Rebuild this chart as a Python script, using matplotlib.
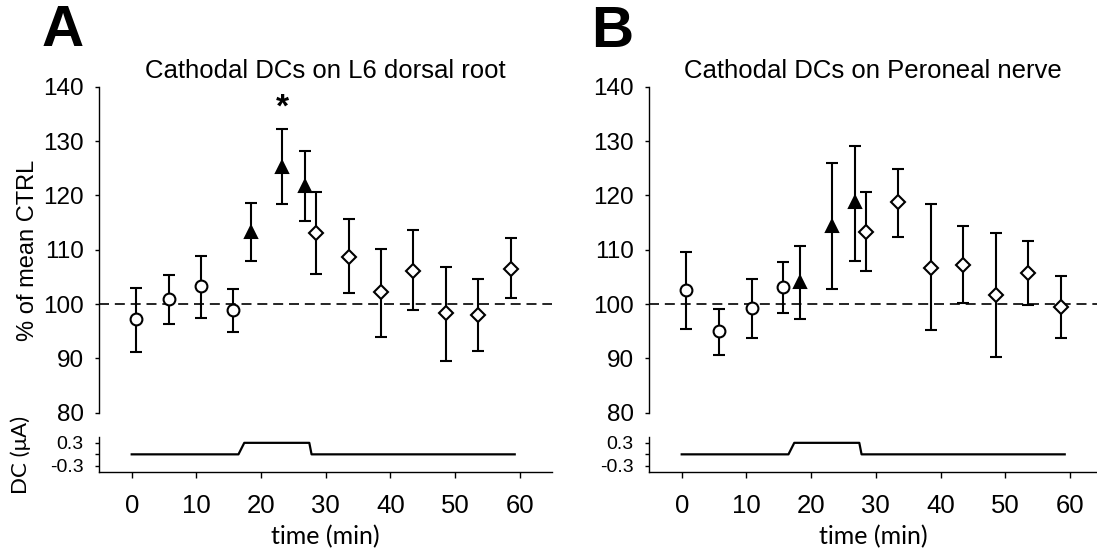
import matplotlib
matplotlib.use("Agg")
import matplotlib.pyplot as plt

plt.rcParams['font.family'] = ['Liberation Sans', 'DejaVu Sans']

# panel A - cathodal DCs on L6 dorsal root
timeA = [0.7, 5.7, 10.7, 15.7, 18.4, 23.3, 26.8, 28.5, 33.6, 38.5, 43.5, 48.6, 53.6, 58.6]
meanA = [97.2, 101.0, 103.3, 98.9, 113.3, 125.2, 121.7, 113.0, 108.7, 102.3, 106.1, 98.3, 97.9, 106.4]
highA = [102.9, 105.3, 108.8, 102.7, 118.6, 132.3, 128.2, 120.7, 115.7, 110.2, 113.7, 106.8, 104.6, 112.1]
lowA = [91.1, 96.3, 97.5, 94.9, 108.0, 118.5, 115.3, 105.5, 102.0, 94.0, 98.9, 89.6, 91.3, 101.1]

# panel B - cathodal DCs on peroneal nerve
timeB = [0.7, 5.7, 10.8, 15.7, 18.3, 23.3, 26.8, 28.5, 33.5, 38.5, 43.5, 48.6, 53.6, 58.6]
meanB = [102.6, 95.0, 99.3, 103.2, 104.1, 114.4, 118.8, 113.3, 118.7, 106.6, 107.1, 101.7, 105.7, 99.4]
highB = [109.6, 99.1, 104.6, 107.7, 110.6, 125.9, 129.1, 120.6, 124.9, 118.4, 114.3, 113.1, 111.6, 105.2]
lowB = [95.4, 90.7, 93.8, 98.3, 97.2, 102.8, 107.9, 106.1, 112.4, 95.2, 100.1, 90.2, 99.9, 93.7]

# phase of each point: before / during / after DC
phases = ["pre"] * 4 + ["dc"] * 3 + ["post"] * 7

# significance star (panel A)
starTime = [23.3]
starValue = [136.0]

# DC current trace (uA)
dcTime = [0, 16.5, 17.4, 27.45, 27.8, 59.2]
dcValue = [0, 0, 0.3, 0.3, 0, 0]

W, H = 1097, 553
PX_PER_MIN = 6.47


def styleFor(phase):
    switcher = {
        "pre": ("o", "white", 8.5),
        "dc": ("^", "black", 8.5),
        "post": ("D", "white", 7.3),
    }
    return switcher[phase]


def drawPanel(fig, left, right, zeroX, t, m, lo, hi, title):
    top, bottom = 86.7, 412.7
    ax = fig.add_axes([left / W, 1 - bottom / H, (right - left) / W, (bottom - top) / H])
    axDc = fig.add_axes([left / W, 1 - 472 / H, (right - left) / W, 35.3 / H])
    xmin = -(zeroX - left) / PX_PER_MIN
    xmax = (right - zeroX) / PX_PER_MIN

    ax.axhline(100, color="k", lw=1.2, ls=(0, (6, 3.5)), zorder=1)
    yerr = [[m[i] - lo[i] for i in range(len(m))], [hi[i] - m[i] for i in range(len(m))]]
    ax.errorbar(t, m, yerr=yerr, fmt="none", ecolor="k", elinewidth=1.5,
                capsize=4.6, capthick=1.5, zorder=2)
    for ph in ["pre", "dc", "post"]:
        marker, face, size = styleFor(ph)
        xs = [t[i] for i in range(len(t)) if phases[i] == ph]
        ys = [m[i] for i in range(len(m)) if phases[i] == ph]
        ax.plot(xs, ys, ls="none", marker=marker, ms=size, mfc=face, mec="k",
                mew=1.5, zorder=3, clip_on=False)

    ax.set_xlim(xmin, xmax)
    ax.set_ylim(80, 140)
    ax.set_yticks(range(80, 141, 10))
    for s in ["top", "right", "bottom"]:
        ax.spines[s].set_visible(False)
    ax.spines["left"].set_linewidth(1)
    ax.tick_params(axis="x", bottom=False, labelbottom=False)
    ax.tick_params(axis="y", labelsize=17.5, length=3, width=1, pad=8)
    ax.set_title(title, fontsize=18.5, pad=6)

    axDc.plot(dcTime, dcValue, color="k", lw=1.6)
    axDc.set_xlim(xmin, xmax)
    axDc.set_ylim(-0.46, 0.46)
    axDc.set_yticks([-0.3, 0, 0.3])
    axDc.set_yticklabels(["-0.3", "", "0.3"])
    axDc.set_xticks(range(0, 61, 10))
    for s in ["top", "right"]:
        axDc.spines[s].set_visible(False)
    axDc.spines["left"].set_linewidth(1)
    axDc.spines["bottom"].set_linewidth(1)
    axDc.tick_params(axis="y", labelsize=14, length=3, width=1, pad=8)
    axDc.tick_params(axis="x", labelsize=18.5, length=4, width=1, pad=12)
    fig.text((left + right) / 2 / W, 1 - 537 / H, "time (min)", fontsize=18,
             family=["Lato", "DejaVu Sans"], ha="center", va="center")
    return ax, axDc


fig = plt.figure(figsize=(W / 100, H / 100), dpi=100)

axA, dcA = drawPanel(fig, 99, 552, 131.7, timeA, meanA, lowA, highA,
                     "Cathodal DCs on L6 dorsal root")
axA.text(starTime[0], starValue[0], "*", fontsize=24, fontweight="bold",
         ha="center", va="center")
axB, dcB = drawPanel(fig, 649, 1097, 681.7, timeB, meanB, lowB, highB,
                     "Cathodal DCs on Peroneal nerve")

fig.text(28 / W, 1 - 250 / H, "% of mean CTRL", fontsize=17, rotation=90,
         ha="center", va="center")
fig.text(21 / W, 1 - 455 / H, "DC (\u03bcA)", fontsize=16, rotation=90,
         family=["Lato", "DejaVu Sans"], ha="center", va="center")
fig.text(63 / W, 1 - 31 / H, "A", fontsize=42, fontweight="bold", ha="center", va="center")
fig.text(612 / W, 1 - 32 / H, "B", fontsize=42, fontweight="bold", ha="center", va="center")

fig.savefig("out.png", dpi=100)
